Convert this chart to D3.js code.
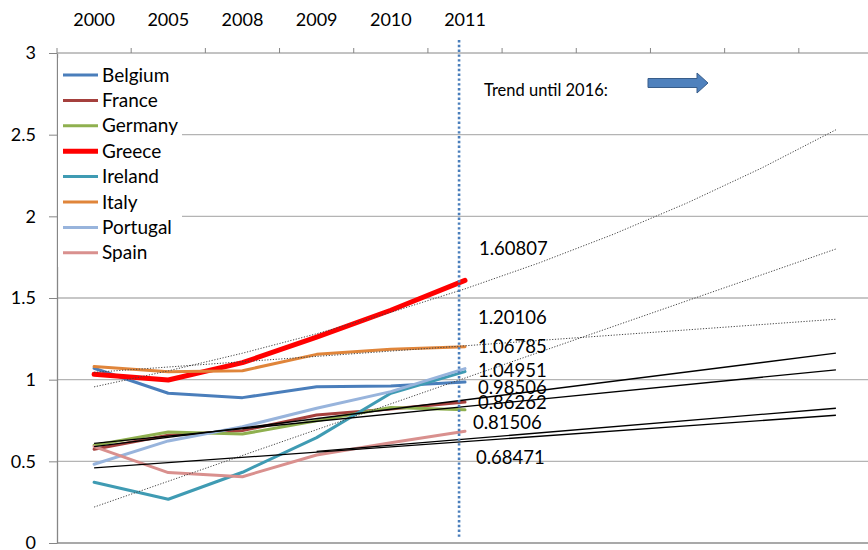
<!DOCTYPE html>
<html>
<head>
<meta charset="utf-8">
<script src="https://cdn.jsdelivr.net/npm/d3@7"></script>
<style>
  html, body { margin: 0; padding: 0; background: #fff; }
  svg { display: block; font-family: Lato, "Open Sans", sans-serif; }
</style>
</head>
<body>
<script>
// ---------- data ----------
const years = ["2000", "2005", "2008", "2009", "2010", "2011"];
const forecastYears = ["2012", "2013", "2014", "2015", "2016"];
const yTickValues = [0, 0.5, 1, 1.5, 2, 2.5, 3];

const countries = ["Belgium", "France", "Germany", "Greece", "Ireland", "Italy", "Portugal", "Spain"];
const belgium  = [1.07, 0.917, 0.89, 0.957, 0.961, 0.98506];
const france   = [0.574, 0.66, 0.688, 0.784, 0.82, 0.86262];
const germany  = [0.598, 0.68, 0.667, 0.749, 0.829, 0.81506];
const greece   = [1.033, 0.998, 1.104, 1.26, 1.425, 1.60807];
const ireland  = [0.372, 0.268, 0.433, 0.645, 0.917, 1.04951];
const italy    = [1.08, 1.049, 1.055, 1.155, 1.186, 1.20106];
const portugal = [0.482, 0.625, 0.712, 0.825, 0.927, 1.06785];
const spain    = [0.59, 0.431, 0.406, 0.539, 0.614, 0.68471];

// trend lines (values read at the year slots they pass through)
const greeceTrendYears = ["2000","2005","2008","2009","2010","2011","2012","2013","2014","2015","2016"];
const greeceTrend      = [0.956, 1.054, 1.162, 1.281, 1.412, 1.556, 1.715, 1.890, 2.083, 2.296, 2.530];
const irelandTrendYears = ["2000", "2016"];
const irelandTrend      = [0.22, 1.80];
const italyTrendYears = ["2000", "2016"];
const italyTrend      = [1.045, 1.37];
const franceTrendYears = ["2000", "2016"];
const franceTrend      = [0.59, 1.162];
const germanyTrendYears = ["2000", "2016"];
const germanyTrend      = [0.61, 1.06];
const spainTrendYears = ["2000", "2016"];
const spainTrend      = [0.46, 0.782];
const extraTrendYears = ["2009", "2016"];
const extraTrend      = [0.561, 0.825];

const valueLabels = [1.60807, 1.20106, 1.06785, 1.04951, 0.98506, 0.86262, 0.81506, 0.68471];
const annotationText = "Trend until 2016:";

// ---------- setup ----------
const W = 868, H = 550;
const svg = d3.select("body").append("svg").attr("width", W).attr("height", H);

const slots = years.concat(forecastYears);
const x = d3.scaleBand().domain(slots).range([57, 873]);
const y = d3.scaleLinear().domain([0, 3]).range([543, 53]);
const bw = x.bandwidth();
const cx = s => x(s) + bw / 2;

const colors = {
  Belgium: "#4a7ebb", France: "#a5403d", Germany: "#8fb04f", Greece: "#ff0000",
  Ireland: "#3f9bb3", Italy: "#e0853a", Portugal: "#98b4dc", Spain: "#d9908e"
};
const seriesData = { Belgium: belgium, France: france, Germany: germany, Greece: greece,
  Ireland: ireland, Italy: italy, Portugal: portugal, Spain: spain };

// ---------- gridlines ----------
svg.append("g").selectAll("line")
  .data(yTickValues.filter(v => v > 0 && v < 3))
  .join("line")
  .attr("x1", 57).attr("x2", 873)
  .attr("y1", d => y(d)).attr("y2", d => y(d))
  .attr("stroke", "#b4b4b4").attr("stroke-width", 1.4);

// bottom line (0) and top line (3)
svg.append("line").attr("x1", 57).attr("x2", 873).attr("y1", y(0)).attr("y2", y(0))
  .attr("stroke", "#8c8c8c").attr("stroke-width", 1.5);
svg.append("line").attr("x1", 57).attr("x2", 873).attr("y1", y(3)).attr("y2", y(3))
  .attr("stroke", "#868686").attr("stroke-width", 1);

// top category ticks at band boundaries
svg.append("g").selectAll("line")
  .data(slots)
  .join("line")
  .attr("x1", d => x(d)).attr("x2", d => x(d))
  .attr("y1", y(3) - 5).attr("y2", y(3))
  .attr("stroke", "#868686").attr("stroke-width", 1);

// top axis labels
const topAxis = svg.append("g").attr("transform", `translate(0,${y(3)})`)
  .call(d3.axisTop(x).tickSize(0).tickPadding(27).tickFormat(d => years.includes(d) ? d : ""));
topAxis.select(".domain").remove();
topAxis.selectAll("text").attr("font-size", 18).attr("fill", "#000")
  .attr("font-family", "Lato, 'Open Sans', sans-serif");

// left axis
const leftAxis = svg.append("g").attr("transform", "translate(57,0)")
  .call(d3.axisLeft(y).tickValues(yTickValues).tickSize(8).tickSizeOuter(0).tickPadding(13)
    .tickFormat(d => String(d)));
leftAxis.select(".domain").attr("stroke", "#868686").attr("stroke-width", 1.3);
leftAxis.selectAll(".tick line").attr("stroke", "#868686");
leftAxis.selectAll("text").attr("font-size", 18).attr("fill", "#000")
  .attr("font-family", "Lato, 'Open Sans', sans-serif");

// ---------- series ----------
const line = d3.line().x(d => cx(d[0])).y(d => y(d[1]));
const gSeries = svg.append("g");
countries.forEach(c => {
  const pts = years.map((yr, i) => [yr, seriesData[c][i]]);
  gSeries.append("path")
    .attr("d", line(pts))
    .attr("fill", "none")
    .attr("stroke", colors[c])
    .attr("stroke-width", c === "Greece" ? 5 : 3)
    .attr("stroke-linejoin", "round")
    .attr("stroke-linecap", "round");
});

// ---------- trend lines ----------
const trends = [
  { yrs: greeceTrendYears, vals: greeceTrend, dotted: true },
  { yrs: irelandTrendYears, vals: irelandTrend, dotted: true },
  { yrs: italyTrendYears, vals: italyTrend, dotted: true },
  { yrs: franceTrendYears, vals: franceTrend, dotted: false },
  { yrs: germanyTrendYears, vals: germanyTrend, dotted: false },
  { yrs: spainTrendYears, vals: spainTrend, dotted: false },
  { yrs: extraTrendYears, vals: extraTrend, dotted: false }
];
const gTrend = svg.append("g");
trends.forEach(t => {
  const pts = t.yrs.map((yr, i) => [yr, t.vals[i]]);
  gTrend.append("path")
    .attr("d", line(pts))
    .attr("fill", "none")
    .attr("stroke", t.dotted ? "#444" : "#000")
    .attr("stroke-width", t.dotted ? 1 : 1.3)
    .attr("stroke-dasharray", t.dotted ? "1.2,1.6" : null);
});

// ---------- value labels ----------
const labelAnchors = [1.80, 1.378, 1.20, 1.053, 0.949, 0.857, 0.735, 0.521];
const labelDx = [14, 13, 13, 13, 13, 13, 8, 11];
svg.append("g").selectAll("text")
  .data(valueLabels)
  .join("text")
  .attr("x", (d, i) => cx("2011") + labelDx[i])
  .attr("y", (d, i) => y(labelAnchors[i]))
  .attr("dy", "0.35em")
  .attr("font-size", 18.5)
  .attr("fill", "#000")
  .text(d => d.toFixed(5));

// ---------- vertical dotted marker at 2011 ----------
svg.append("line")
  .attr("x1", x("2011") + bw * 0.42).attr("x2", x("2011") + bw * 0.42)
  .attr("y1", 40).attr("y2", 538)
  .attr("stroke", "#4a7ebb").attr("stroke-width", 2.6)
  .attr("stroke-dasharray", "2.4,2.4");

// ---------- annotation ----------
svg.append("text")
  .attr("x", 484).attr("y", 90).attr("dy", "0.35em")
  .attr("font-size", 16.5).attr("fill", "#000")
  .text(annotationText);
svg.append("path")
  .attr("d", "M648,78.5 L697,78.5 L697,73 L708,83 L697,93 L697,87.5 L648,87.5 Z")
  .attr("fill", "#4f81bd").attr("stroke", "#385d8a").attr("stroke-width", 1);

// ---------- legend ----------
const legend = svg.append("g");
legend.append("rect").attr("x", 58).attr("y", 58).attr("width", 124).attr("height", 209).attr("fill", "#fff");
const legItems = legend.selectAll("g.item")
  .data(countries)
  .join("g")
  .attr("class", "item")
  .attr("transform", (d, i) => `translate(0,${75 + i * 25.4})`);
legItems.append("line")
  .attr("x1", 63).attr("x2", 98).attr("y1", 0).attr("y2", 0)
  .attr("stroke", d => colors[d])
  .attr("stroke-width", d => d === "Greece" ? 5 : 3);
legItems.append("text")
  .attr("x", 102).attr("y", 0).attr("dy", "0.35em")
  .attr("font-size", 19).attr("fill", "#000")
  .text(d => d);
</script>
</body>
</html>
